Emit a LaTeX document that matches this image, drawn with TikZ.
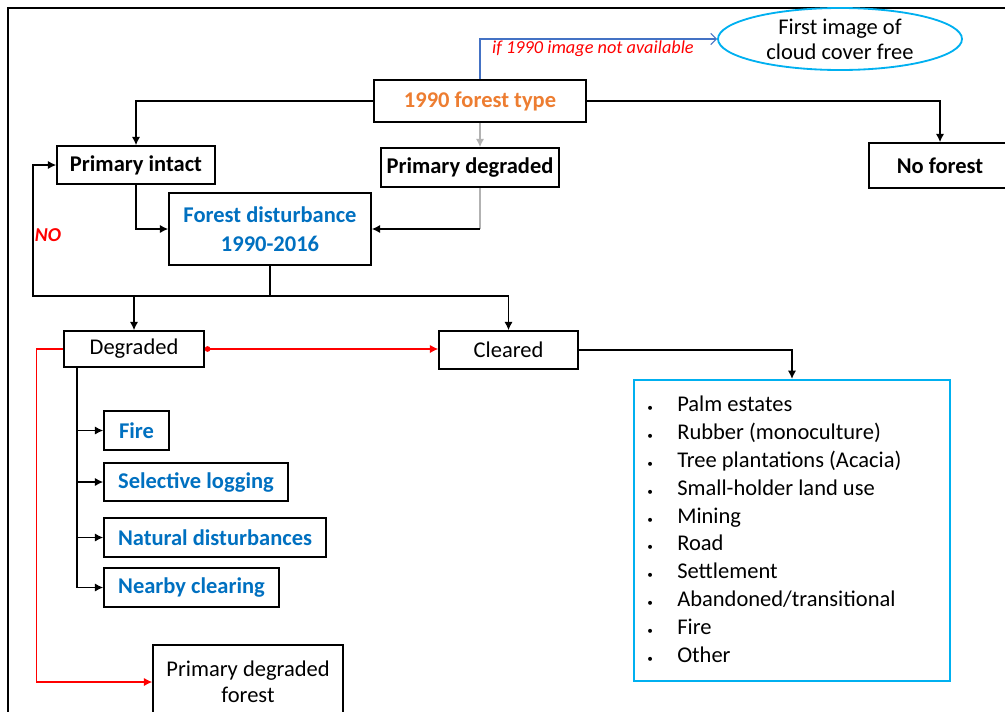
\documentclass[tikz,border=0pt]{standalone}
\usepackage{fontspec}
\setmainfont{Carlito}
\usetikzlibrary{arrows.meta,shapes.geometric,calc}
\definecolor{typeorange}{RGB}{237,125,49}
\definecolor{distblue}{RGB}{0,112,192}
\definecolor{listcyan}{RGB}{0,176,240}
\definecolor{linkblue}{RGB}{68,114,196}
\tikzset{
  sz/.style 2 args={minimum width=#1*0.025cm, minimum height=#2*0.025cm},
  box/.style={draw, line width=1.1pt, inner sep=0pt, align=center, font=\fontsize{16}{21}\selectfont},
  bbox/.style={box, font=\fontsize{16}{21}\selectfont\bfseries},
  link/.style={line width=1.1pt},
  arr/.style={link, -{Latex[length=6pt,width=6pt]}},
  listitem/.style={inner sep=0pt, anchor=base west, font=\fontsize{16}{18}\selectfont},
}
\begin{document}
\begin{tikzpicture}[x=0.025cm, y=-0.025cm]
\useasboundingbox (0,0) rectangle (1005,711);
\clip (0,0) rectangle (1005,711);
% frame
\draw[line width=1.5pt] (8,730) -- (8,8) -- (1030,8);

% top level
\node[bbox, sz={212}{42}, text=typeorange] (ftype) at (480,101) {1990 forest type};
\node[ellipse, draw=listcyan, line width=1.3pt, inner sep=0pt, sz={244}{62}, align=center,
      font=\fontsize{16}{18}\selectfont] (cloud) at (840,39) {First image of\\cloud cover free};
\node[text=red, font=\itshape\fontsize{13}{14}\selectfont] (note) at (593,49) {if 1990 image not available};

\node[bbox, sz={158}{38}] (pintact) at (136,165) {Primary intact};
\node[bbox, sz={178}{39}] (pdeg) at (470,167.5) {Primary degraded};
\node[bbox, sz={142}{45}] (noforest) at (940,165.5) {No forest};

\node[bbox, sz={202}{72}, text=distblue] (fdist) at (270,229) {Forest disturbance\\1990-2016};
\node[text=red, font=\bfseries\itshape\fontsize{14}{16}\selectfont] (nolabel) at (48,235) {NO};

% second level
\node[box, sz={140}{36}] (degraded) at (134,349) {Degraded};
\node[box, sz={139}{38}] (cleared) at (508.5,350) {Cleared};

\node[bbox, sz={65}{39}, text=distblue] (fire) at (136.5,430.5) {Fire};
\node[bbox, sz={184}{38}, text=distblue] (selog) at (196,482) {Selective logging};
\node[bbox, sz={222}{39}, text=distblue] (natdist) at (215,537.5) {Natural disturbances};
\node[bbox, sz={175}{39}, text=distblue] (nearby) at (191.5,587.5) {Nearby clearing};

\node[box, sz={190}{74}, font=\fontsize{16}{18.5}\selectfont] (pdforest) at (248,682) {Primary degraded\\forest};

\node[draw=listcyan, line width=1.5pt, sz={316}{301}] (landuse) at (792,530.5) {};
\foreach \t [count=\i] in {Palm estates, Rubber (monoculture), Tree plantations (Acacia),
    Small-holder land use, Mining, Road, Settlement, Abandoned/transitional, Fire, Other}{
  \node[listitem, font=\fontsize{8}{8}\selectfont] (bul\i) at (647,384+27.8*\i) {\textbullet};
  \node[listitem] (lu\i) at (677,384+27.8*\i) {\t};
}

% connectors
\draw[link, linkblue, line width=0.8pt, -{Straight Barb[length=4pt]}] (ftype.north) |- (cloud.west);
\draw[arr] (ftype.west) -| (pintact.north);
\draw[arr] (ftype.east) -| (noforest.north);
\draw[arr, gray!60] (ftype.south) -- (ftype.south |- pdeg.north);

\draw[arr] (pintact.south) |- (fdist.west);
\draw[link, gray!60] (pdeg.south -| ftype.south) -- (ftype.south |- fdist.east);
\draw[arr] (ftype.south |- fdist.east) -- (fdist.east);

\coordinate (split) at ($(fdist.south)+(0,30)$);
\draw[arr] (fdist.south) -- (split) -- ++(-237,0) |- (pintact.west);
\draw[arr] (split) -| (degraded.north);
\draw[arr] (split) -| (cleared.north);

\draw[link, red, line width=0.9pt, {Circle[length=4pt]}-{Latex[length=6pt,width=6pt]}]
  (degraded.east) -- (degraded.east -| cleared.west);
\draw[arr, red, line width=0.9pt] (degraded.west) -- ++(-27,0) |- (pdforest.west);
\draw[arr] (cleared.east) -| (landuse.north);

\coordinate (trunk) at ($(degraded.south west)+(14,0)$);
\foreach \b in {fire,selog,natdist,nearby}
  \draw[arr] (trunk) |- (\b.west);
\end{tikzpicture}
\end{document}
